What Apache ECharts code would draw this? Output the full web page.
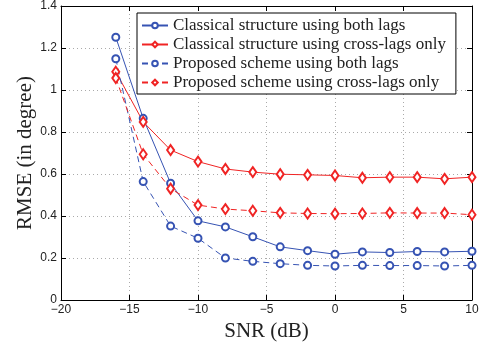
<!DOCTYPE html>
<html><head><meta charset="utf-8">
<script src="https://cdn.jsdelivr.net/npm/echarts@6/dist/echarts.min.js"></script>
<style>html,body{margin:0;padding:0;background:#fff}#c{width:484px;height:343px}</style>
</head><body><div id="c"></div>
<script>
const snr = [-16, -14, -12, -10, -8, -6, -4, -2, 0, 2, 4, 6, 8, 10];
const classicalBoth = [1.251, 0.865, 0.556, 0.377, 0.348, 0.301, 0.253, 0.235, 0.218, 0.229, 0.226, 0.231, 0.229, 0.232];
const classicalCross = [1.087, 0.848, 0.714, 0.659, 0.624, 0.609, 0.599, 0.596, 0.593, 0.582, 0.585, 0.585, 0.577, 0.585];
const proposedBoth = [1.149, 0.564, 0.352, 0.294, 0.200, 0.184, 0.173, 0.165, 0.162, 0.165, 0.164, 0.164, 0.162, 0.165];
const proposedCross = [1.057, 0.694, 0.530, 0.452, 0.433, 0.425, 0.415, 0.412, 0.411, 0.412, 0.415, 0.414, 0.414, 0.406];
const seriesNames = [
  'Classical structure using both lags',
  'Classical structure using cross-lags only',
  'Proposed scheme using both lags',
  'Proposed scheme using cross-lags only'
];
const xTicks = {min: -20, max: 10, interval: 5};
const yTicks = {min: 0, max: 1.4, interval: 0.2};

const BLUE = '#3653b3', RED = '#f02424';
const pairs = v => snr.map((x, i) => [x, v[i]]);
function mk(name, vals, color, dashed, sym, size) {
  return {
    name, type: 'line', data: pairs(vals), symbol: sym, symbolSize: size,
    lineStyle: {color, width: 1, type: dashed ? [6, 4] : 'solid'},
    itemStyle: {color, borderColor: color, borderWidth: 1},
    showSymbol: true, animation: false, z: 3
  };
}
const axisCommon = {
  axisLine: {show: true, onZero: false, lineStyle: {color: '#000', width: 1}},
  axisTick: {show: true, inside: true, length: 5, lineStyle: {color: '#000'}},
};
const chart = echarts.init(document.getElementById('c'), null, {renderer: 'canvas'});
chart.setOption({
  animation: false,
  backgroundColor: '#fff',
  grid: {left: 61, right: 12, top: 6, bottom: 43, containLabel: false, outerBoundsMode: 'none'},
  legend: {
    data: seriesNames, orient: 'vertical', left: 137, top: 13,
    itemWidth: 26, itemHeight: 7, itemGap: 2,
    borderColor: '#000', borderWidth: 1, backgroundColor: '#fff',
    padding: [4, 10, 3, 4],
    textStyle: {fontFamily: 'Liberation Serif', fontSize: 17, color: '#222'}
  },
  xAxis: [
    Object.assign({type: 'value', position: 'bottom', ...xTicks,
      name: 'SNR (dB)', nameLocation: 'middle', nameGap: 19,
      nameTextStyle: {fontFamily: 'Liberation Serif', fontSize: 21, color: '#222'},
      axisLabel: {color: '#222', fontFamily: 'Liberation Sans', fontSize: 12, margin: 4,
        formatter: v => String(v).replace('-', '\u2212')},
      splitLine: {show: true, lineStyle: {color: '#aaa', type: [1, 3], width: 1}}
    }, axisCommon),
    Object.assign({type: 'value', position: 'top', ...xTicks,
      axisLabel: {show: false}, splitLine: {show: false}}, axisCommon)
  ],
  yAxis: [
    Object.assign({type: 'value', position: 'left', ...yTicks,
      name: 'RMSE (in degree)', nameLocation: 'middle', nameGap: 25, nameMoveOverlap: false,
      nameTextStyle: {fontFamily: 'Liberation Serif', fontSize: 21, color: '#222'},
      axisLabel: {color: '#222', fontFamily: 'Liberation Sans', fontSize: 12, margin: 4},
      splitLine: {show: true, lineStyle: {color: '#aaa', type: [1, 3], width: 1}}
    }, axisCommon),
    Object.assign({type: 'value', position: 'right', ...yTicks,
      axisLabel: {show: false}, splitLine: {show: false}}, axisCommon)
  ],
  series: [
    mk(seriesNames[0], classicalBoth, BLUE, false, 'emptyCircle', 7),
    mk(seriesNames[1], classicalCross, RED, false, 'emptyDiamond', [7, 10]),
    mk(seriesNames[2], proposedBoth, BLUE, true, 'emptyCircle', 7),
    mk(seriesNames[3], proposedCross, RED, true, 'emptyDiamond', [7, 10])
  ]
});
</script></body></html>
